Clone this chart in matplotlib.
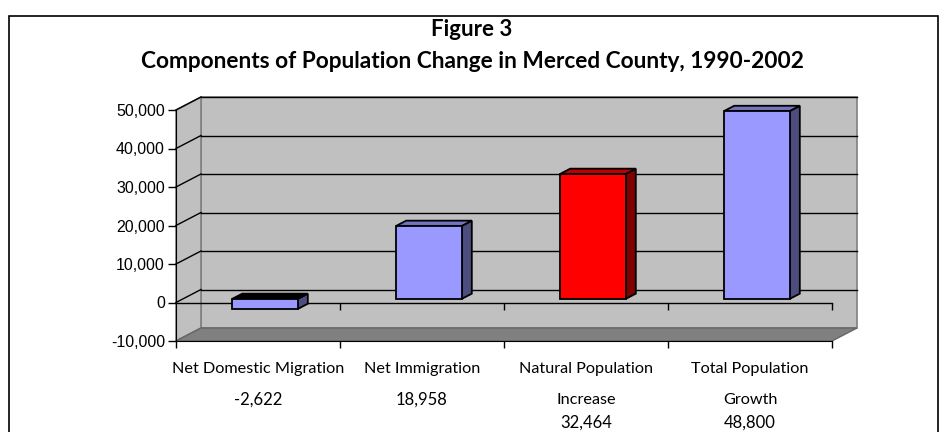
import matplotlib

matplotlib.use("Agg")
import matplotlib.pyplot as plt
from matplotlib.patches import Polygon, Rectangle
from matplotlib.markers import TICKDOWN
from matplotlib.ticker import FuncFormatter

# Components of population change, Merced County 1990-2002
categories = ["Net Domestic Migration", "Net Immigration",
              "Natural Population\nIncrease", "Total Population\nGrowth"]
values = [-2622, 18958, 32464, 48800]
value_labels = ["-2,622", "18,958", "32,464", "48,800"]
front_colors = ["#9999FF", "#9999FF", "#FF0000", "#9999FF"]
side_colors = ["#4D4D80", "#4D4D80", "#800000", "#4D4D80"]
top_colors = ["#000000", "#7373BF", "#C00000", "#7373BF"]
y_ticks = [-10000, 0, 10000, 20000, 30000, 40000, 50000]

W, H = 944, 432
fig = plt.figure(figsize=(W / 100, H / 100), dpi=100)
fig.patch.set_facecolor("white")

# outer frame
fig.add_artist(Rectangle((9 / W, -0.05), (938 - 9) / W, 1.05 - 16 / H,
                         transform=fig.transFigure, fill=False,
                         edgecolor="black", linewidth=1.2))

fig.text(472 / W, 1 - 30 / H, "Figure 3", ha="center", va="center",
         fontsize=16, fontweight="bold", family="Lato")
fig.text(472 / W, 1 - 62 / H,
         "Components of Population Change in Merced County, 1990-2002",
         ha="center", va="center", fontsize=16.3, fontweight="bold", family="Lato")

# front plane of the 3-D box: x in category units, y in persons
left, right, top, bottom = 176, 832, 110, 341
ax = fig.add_axes([left / W, 1 - bottom / H, (right - left) / W, (bottom - top) / H])
ymin, ymax = -10000, 50000
ax.set_xlim(0, len(categories))
ax.set_ylim(ymin, ymax)
ax.patch.set_alpha(0)

# depth of the box in data units (about 25 px right, 13 px up)
dx = 25 / (right - left) * len(categories)
dy = 13 / (bottom - top) * (ymax - ymin)
n = len(categories)

wall = "#C0C0C0"
edge = "#808080"
ax.add_patch(Polygon([(dx, ymin + dy), (n + dx, ymin + dy), (n + dx, ymax + dy), (dx, ymax + dy)],
                     closed=True, facecolor=wall, edgecolor=edge, lw=1.2, clip_on=False, zorder=0))
ax.add_patch(Polygon([(0, ymin), (dx, ymin + dy), (dx, ymax + dy), (0, ymax)],
                     closed=True, facecolor=wall, edgecolor=edge, lw=1.2, clip_on=False, zorder=0))
ax.add_patch(Polygon([(0, ymin), (n, ymin), (n + dx, ymin + dy), (dx, ymin + dy)],
                     closed=True, facecolor="#808080", edgecolor="#666666", lw=1, clip_on=False, zorder=0.5))

for v in y_ticks[1:]:
    ax.plot([dx, n + dx], [v + dy, v + dy], color="black", lw=1, clip_on=False, zorder=1)
    ax.plot([0, dx], [v, v + dy], color="black", lw=1, clip_on=False, zorder=1)

# category axis crossing at zero
ax.plot([0, n], [0, 0], color="black", lw=1, clip_on=False, zorder=1.5)
ax.plot(range(1, n + 1), [0] * n, ls="none", marker=TICKDOWN, ms=5, mew=1,
        color="black", clip_on=False, zorder=1.5)

# 3-D columns
bar_w = 0.40
f = 0.28   # depth of the bar's front face
d = 0.40   # bar depth
for i, v in enumerate(values):
    x0 = i + 0.5 - bar_w / 2 + f * dx
    x1 = x0 + bar_w
    y0 = f * dy
    y1 = v + f * dy
    lo, hi = min(y0, y1), max(y0, y1)
    ox, oy = d * dx, d * dy
    kw = dict(edgecolor="black", lw=1.3, joinstyle="miter", clip_on=False, zorder=3)
    ax.add_patch(Polygon([(x1, lo), (x1 + ox, lo + oy), (x1 + ox, hi + oy), (x1, hi)],
                         facecolor=side_colors[i], **kw))
    ax.add_patch(Polygon([(x0, hi), (x1, hi), (x1 + ox, hi + oy), (x0 + ox, hi + oy)],
                         facecolor=top_colors[i], **kw))
    ax.add_patch(Polygon([(x0, lo), (x1, lo), (x1, hi), (x0, hi)],
                         facecolor=front_colors[i], **kw))

# axes, ticks and labels
for s in ("top", "right"):
    ax.spines[s].set_visible(False)
ax.spines["left"].set_zorder(2)
ax.spines["bottom"].set_zorder(2)
ax.set_yticks(y_ticks)
ax.yaxis.set_major_formatter(FuncFormatter(lambda v, p: f"{v:,.0f}"))
ax.set_xticks(range(n + 1))
ax.set_xticklabels([])
ax.tick_params(axis="y", length=6, width=1, pad=2, labelsize=11.5)
ax.tick_params(axis="x", length=5, width=1)
for lab in ax.get_yticklabels():
    lab.set_family("Liberation Sans")

for i, (name, val) in enumerate(zip(categories, value_labels)):
    lines = name.split("\n")
    for j, line in enumerate(lines):
        ax.annotate(line, (i + 0.5, 0), xycoords=("data", "axes fraction"),
                    xytext=(0, -28 - 31 * j), textcoords="offset pixels",
                    ha="center", va="center", fontsize=11.7, family="Lato")
    ax.annotate(val, (i + 0.5, 0), xycoords=("data", "axes fraction"),
                xytext=(0, -59 if len(lines) == 1 else -82),
                textcoords="offset pixels", ha="center", va="center",
                fontsize=12, family="Lato")

fig.savefig("out.png", dpi=100)
